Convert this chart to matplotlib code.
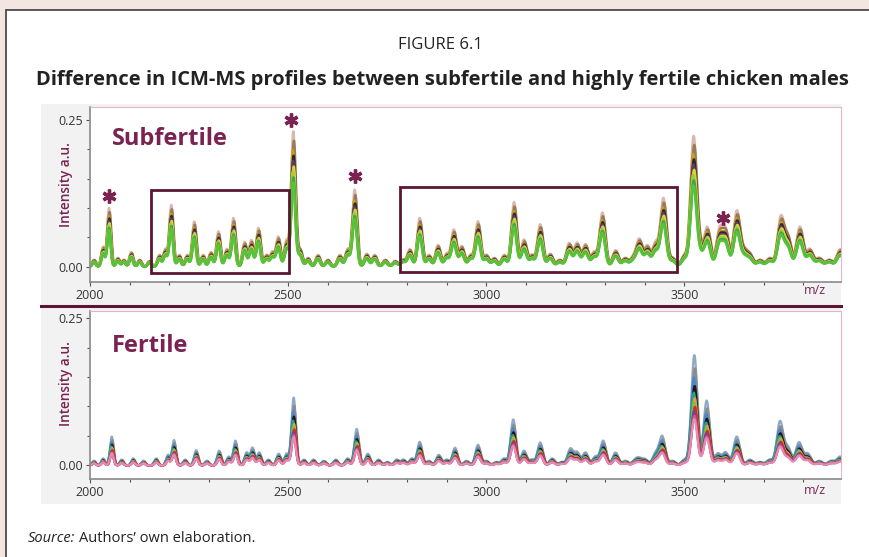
import matplotlib
matplotlib.use("Agg")
import matplotlib.pyplot as plt
from matplotlib.patches import Rectangle
from matplotlib.lines import Line2D
from matplotlib.ticker import MultipleLocator
import numpy as np

plt.rcParams["font.family"] = ["Open Sans", "DejaVu Sans"]

# Peak list (m/z, top intensity)
sub_mz = [2010, 2033, 2048, 2070, 2085, 2104, 2125, 2150, 2175, 2190, 2205, 2225,
          2245, 2263, 2285, 2305, 2324, 2345, 2362, 2390, 2407, 2425, 2445, 2460,
          2475, 2496, 2513, 2530, 2550, 2575, 2600, 2630, 2650, 2668, 2698, 2718,
          2745, 2770, 2790, 2807, 2832, 2855, 2878, 2900, 2918, 2938, 2960, 2979,
          3000, 3020, 3045, 3070, 3095, 3115, 3136, 3161, 3185, 3209, 3229, 3250,
          3272, 3293, 3326, 3350, 3370, 3386, 3406, 3427, 3447, 3470, 3500, 3523,
          3540, 3558, 3588, 3604, 3632, 3650, 3665, 3690, 3715, 3743, 3761, 3791,
          3816, 3840, 3865, 3893]
sub_int = [0.012, 0.034, 0.100, 0.015, 0.012, 0.025, 0.012, 0.010, 0.020, 0.030, 0.105, 0.020,
           0.020, 0.077, 0.020, 0.025, 0.060, 0.030, 0.083, 0.042, 0.045, 0.066, 0.020, 0.025,
           0.051, 0.045, 0.230, 0.030, 0.015, 0.020, 0.012, 0.020, 0.030, 0.131, 0.022, 0.020,
           0.012, 0.010, 0.012, 0.030, 0.083, 0.020, 0.037, 0.022, 0.063, 0.035, 0.020, 0.077,
           0.020, 0.015, 0.020, 0.110, 0.046, 0.020, 0.072, 0.022, 0.012, 0.040, 0.040, 0.038,
           0.025, 0.092, 0.028, 0.015, 0.015, 0.046, 0.035, 0.040, 0.116, 0.015, 0.020, 0.220,
           0.030, 0.066, 0.060, 0.060, 0.094, 0.025, 0.020, 0.012, 0.015, 0.083, 0.050, 0.068,
           0.030, 0.015, 0.012, 0.030]

# Peak list
fer_mz = [2010, 2033, 2055, 2080, 2109, 2135, 2167, 2197, 2212, 2240, 2268, 2295,
          2326, 2350, 2367, 2395, 2410, 2427, 2450, 2476, 2496, 2514, 2540, 2564,
          2590, 2620, 2650, 2673, 2701, 2728, 2750, 2774, 2791, 2812, 2832, 2855,
          2880, 2900, 2921, 2950, 2979, 3000, 3025, 3045, 3068, 3095, 3115, 3136,
          3166, 3190, 3212, 3229, 3250, 3275, 3295, 3326, 3351, 3375, 3386, 3401,
          3427, 3444, 3470, 3500, 3525, 3556, 3584, 3604, 3632, 3665, 3690, 3715,
          3741, 3761, 3789, 3811, 3840, 3870, 3893]
fer_int = [0.008, 0.012, 0.049, 0.010, 0.012, 0.008, 0.012, 0.018, 0.043, 0.010, 0.026, 0.008,
           0.025, 0.015, 0.042, 0.022, 0.030, 0.022, 0.010, 0.020, 0.020, 0.115, 0.010, 0.010,
           0.008, 0.010, 0.012, 0.062, 0.020, 0.010, 0.006, 0.010, 0.010, 0.012, 0.040, 0.008,
           0.018, 0.010, 0.030, 0.008, 0.035, 0.008, 0.006, 0.012, 0.078, 0.025, 0.010, 0.039,
           0.012, 0.006, 0.028, 0.022, 0.022, 0.015, 0.042, 0.022, 0.008, 0.008, 0.010, 0.010,
           0.020, 0.049, 0.008, 0.010, 0.187, 0.110, 0.020, 0.022, 0.049, 0.010, 0.006, 0.010,
           0.074, 0.030, 0.039, 0.020, 0.008, 0.008, 0.015]

# Replicate spectra: relative intensity and small m/z offset, drawn back to front
sub_scales = [1.00, 0.93, 0.86, 0.82, 0.78, 0.74, 0.70, 0.66, 0.62]
sub_shifts = [0.0, 1.5, -1.2, 0.8, -0.6, 1.2, -1.5, 0.4, -0.3]
sub_colors = ["#d9b8ad", "#9c7a55", "#c79a2b", "#2b2b2b", "#5a3b6b", "#d8d23a",
              "#9bcf3c", "#3ea94a", "#58c23a"]

fer_scales = [1.00, 0.88, 0.80, 0.72, 0.66, 0.61, 0.57, 0.53, 0.49, 0.45, 0.42]
fer_shifts = [0.0, 1.2, -1.0, 0.6, -1.4, 0.9, -0.5, 1.5, -0.8, 0.3, -0.2]
fer_colors = ["#8da9c9", "#8c8c8c", "#4f86c6", "#1a1a1a", "#2a9d8f", "#e0a030",
              "#7ac143", "#d62a2a", "#7b3fa0", "#d04fa0", "#e58cb0"]

x_ticks = [2000, 2500, 3000, 3500]
maroon = "#7a2352"
dark_maroon = "#5a1632"


def spectrum(x, mz, inten, scale, shift):
    y = np.zeros_like(x)
    for m, h in zip(mz, inten):
        s = m / 460.0
        y += h * scale * np.exp(-0.5 * ((x - m - shift) / s) ** 2)
    return y


W, H = 869, 557
fig = plt.figure(figsize=(W / 100, H / 100), dpi=100, facecolor="#f3e5e2")


def fx(px):
    return px / W


def fy(py):
    return 1 - py / H


# white frame and grey panel
fig.patches.append(Rectangle((fx(6), -0.1), 1.2, fy(10) + 0.1, transform=fig.transFigure,
                             facecolor="white", edgecolor="#4a4a4a", lw=1.3, zorder=-10))
fig.patches.append(Rectangle((fx(41), fy(504)), fx(841) - fx(41), fy(104) - fy(504),
                             transform=fig.transFigure, facecolor="#f2f2f2",
                             edgecolor="none", zorder=-9))

fig.text(fx(440), fy(45), "FIGURE 6.1", ha="center", va="center", fontsize=12, color="#222222")
fig.text(fx(442), fy(80), "Difference in ICM-MS profiles between subfertile and highly fertile chicken males",
         ha="center", va="center", fontsize=14.5, fontweight="bold", color="#222222")

x = np.linspace(2000, 3895, 4000)

ax1 = fig.add_axes([fx(90), fy(282), fx(841) - fx(90), fy(107) - fy(282)])
ax2 = fig.add_axes([fx(90), fy(479), fx(841) - fx(90), fy(311) - fy(479)])

for sc, sh, c in zip(sub_scales, sub_shifts, sub_colors):
    ax1.plot(x, spectrum(x, sub_mz, sub_int, sc, sh), color=c, lw=1.8)
for sc, sh, c in zip(fer_scales, fer_shifts, fer_colors):
    ax2.plot(x, spectrum(x, fer_mz, fer_int, sc, sh), color=c, lw=1.6)

ax1.set_ylim(-0.026, 0.272)
ax2.set_ylim(-0.023, 0.262)

for ax in (ax1, ax2):
    ax.set_xlim(2000, 3895)
    ax.set_facecolor("white")
    ax.set_xticks(x_ticks)
    ax.xaxis.set_minor_locator(MultipleLocator(100))
    ax.set_yticks([0.0, 0.25])
    ax.set_yticklabels(["0.00", "0.25"])
    ax.yaxis.set_minor_locator(MultipleLocator(0.05))
    ax.tick_params(which="both", direction="out", colors="#555555", labelcolor="#333333",
                   labelsize=9, width=0.8)
    ax.tick_params(which="major", length=3, pad=2)
    ax.tick_params(which="minor", length=2.5)
    for side in ("left", "bottom"):
        ax.spines[side].set_color("#8a8a8a")
        ax.spines[side].set_linewidth(1.2)
    for side in ("top", "right"):
        ax.spines[side].set_color("#e6b3d0")
        ax.spines[side].set_linewidth(0.8)

ax1.text(2055, 0.218, "Subfertile", fontsize=17, fontweight="bold", color=maroon, va="center")
ax2.text(2055, 0.203, "Fertile", fontsize=17, fontweight="bold", color=maroon, va="center")

# highlighted regions
ax1.add_patch(Rectangle((2154, -0.011), 2503 - 2154, 0.142, fill=False,
                        edgecolor=dark_maroon, lw=2.0, zorder=5))
ax1.add_patch(Rectangle((2783, -0.009), 3482 - 2783, 0.145, fill=False,
                        edgecolor=dark_maroon, lw=2.0, zorder=5))

# significant peaks
star_mz = [2048, 2508, 2668, 3597]
star_y = [0.121, 0.250, 0.155, 0.083]
ax1.plot(star_mz, star_y, linestyle="none", marker=(6, 2, 0), markersize=10,
         markeredgewidth=2.4, color=maroon, zorder=6, clip_on=False)

for yc in (185, 384):
    fig.text(fx(66), fy(yc), "Intensity a.u.", rotation=90, ha="center", va="center",
             fontsize=9.8, fontweight="semibold", color=maroon)
for yc in (291, 491):
    fig.text(fx(815), fy(yc), "m/z", ha="center", va="center", fontsize=9, color=maroon)

# separator between the two panels
fig.add_artist(Line2D([fx(41), fx(841)], [fy(305.5), fy(305.5)], transform=fig.transFigure,
                      color=dark_maroon, lw=2.2))

t = fig.text(fx(28), fy(538), "Source:", fontstyle="italic", fontsize=10.5, color="#222222",
             va="center")
r = fig.canvas.get_renderer()
bb = t.get_window_extent(r)
fig.text(bb.x1 / W + fx(4), fy(538), "Authors\u2019 own elaboration.", fontsize=10.5,
         color="#222222", va="center")

fig.savefig("out.png", dpi=100, facecolor=fig.get_facecolor())
